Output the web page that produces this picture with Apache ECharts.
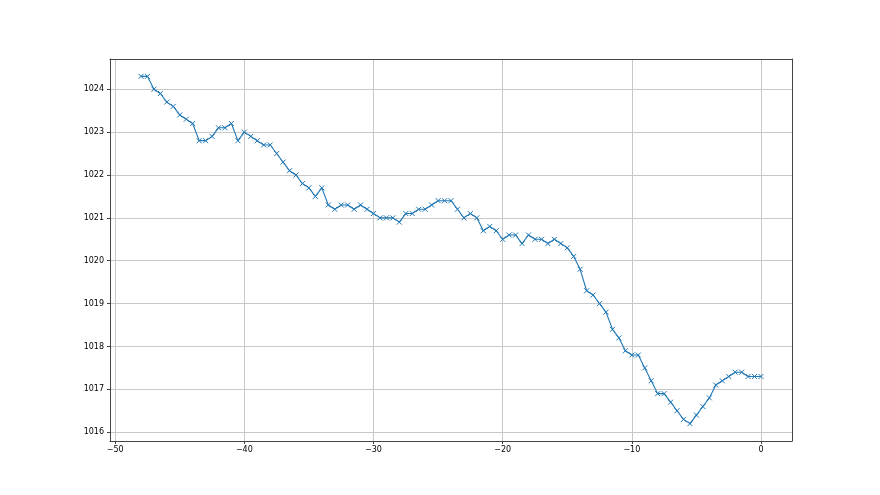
<!DOCTYPE html>
<html>
<head>
<meta charset="utf-8">
<script src="https://cdn.jsdelivr.net/npm/echarts@6/dist/echarts.min.js"></script>
<style>html,body{margin:0;padding:0;background:#fff}#c{width:880px;height:495px}</style>
</head>
<body>
<div id="c"></div>
<script>
var xValues = [-48,-47.5,-47,-46.5,-46,-45.5,-45,-44.5,-44,-43.5,-43,-42.5,-42,-41.5,-41,-40.5,-40,-39.5,-39,-38.5,-38,-37.5,-37,-36.5,-36,-35.5,-35,-34.5,-34,-33.5,-33,-32.5,-32,-31.5,-31,-30.5,-30,-29.5,-29,-28.5,-28,-27.5,-27,-26.5,-26,-25.5,-25,-24.5,-24,-23.5,-23,-22.5,-22,-21.5,-21,-20.5,-20,-19.5,-19,-18.5,-18,-17.5,-17,-16.5,-16,-15.5,-15,-14.5,-14,-13.5,-13,-12.5,-12,-11.5,-11,-10.5,-10,-9.5,-9,-8.5,-8,-7.5,-7,-6.5,-6,-5.5,-5,-4.5,-4,-3.5,-3,-2.5,-2,-1.5,-1,-0.5,0];
var pressure = [1024.3,1024.3,1024.0,1023.9,1023.7,1023.6,1023.4,1023.3,1023.2,1022.8,1022.8,1022.9,1023.1,1023.1,1023.2,1022.8,1023.0,1022.9,1022.8,1022.7,1022.7,1022.5,1022.3,1022.1,1022.0,1021.8,1021.7,1021.5,1021.7,1021.3,1021.2,1021.3,1021.3,1021.2,1021.3,1021.2,1021.1,1021.0,1021.0,1021.0,1020.9,1021.1,1021.1,1021.2,1021.2,1021.3,1021.4,1021.4,1021.4,1021.2,1021.0,1021.1,1021.0,1020.7,1020.8,1020.7,1020.5,1020.6,1020.6,1020.4,1020.6,1020.5,1020.5,1020.4,1020.5,1020.4,1020.3,1020.1,1019.8,1019.3,1019.2,1019.0,1018.8,1018.4,1018.2,1017.9,1017.8,1017.8,1017.5,1017.2,1016.9,1016.9,1016.7,1016.5,1016.3,1016.2,1016.4,1016.6,1016.8,1017.1,1017.2,1017.3,1017.4,1017.4,1017.3,1017.3,1017.3];
var xTicks = [-50,-40,-30,-20,-10,0];
var yTicks = [1016,1017,1018,1019,1020,1021,1022,1023,1024];

var data = xValues.map(function(x,i){return [x, pressure[i]];});
var fontBase = {fontFamily:'DejaVu Sans', fontSize:8, color:'#000'};
function fmt(v){ return String(v).replace('-', '\u2212'); }
var spine = {show:true, onZero:false, lineStyle:{color:'#444', width:1}};
var X_MIN = -50.4, X_MAX = 2.4, Y_MIN = 1015.795, Y_MAX = 1024.705;

var chart = echarts.init(document.getElementById('c'), null, {renderer:'canvas'});
chart.setOption({
  animation:false,
  backgroundColor:'#fff',
  grid:{left:110, right:88, top:59, bottom:54, show:false},
  xAxis:[{
    type:'value', min:X_MIN, max:X_MAX, position:'bottom',
    axisLine:spine,
    axisTick:{show:true, length:3, customValues:xTicks, lineStyle:{color:'#444'}},
    axisLabel:Object.assign({customValues:xTicks, margin:5, formatter:fmt, showMinLabel:true, showMaxLabel:true}, fontBase),
    splitLine:{show:true, lineStyle:{color:'#c8c8c8', width:1}}
  },{
    type:'value', min:X_MIN, max:X_MAX, position:'top',
    axisLine:spine, axisTick:{show:false}, axisLabel:{show:false}, splitLine:{show:false}
  }],
  yAxis:[{
    type:'value', min:Y_MIN, max:Y_MAX, position:'left',
    axisLine:spine,
    axisTick:{show:true, length:3, customValues:yTicks, lineStyle:{color:'#444'}},
    axisLabel:Object.assign({customValues:yTicks, margin:6, formatter:function(v){return String(v);}}, fontBase),
    splitLine:{show:true, lineStyle:{color:'#c8c8c8', width:1}}
  },{
    type:'value', min:Y_MIN, max:Y_MAX, position:'right',
    axisLine:spine, axisTick:{show:false}, axisLabel:{show:false}, splitLine:{show:false}
  }],
  series:[{
    type:'line',
    data:data,
    xAxisIndex:0, yAxisIndex:0,
    symbol:'path://M0,0L10,10M10,0L0,10',
    symbolSize:5,
    showAllSymbol:true,
    lineStyle:{color:'#1f77b4', width:1.1},
    itemStyle:{color:'#1f77b4', borderColor:'#1f77b4', borderWidth:1},
    emphasis:{disabled:true}
  }]
});
</script>
</body>
</html>
